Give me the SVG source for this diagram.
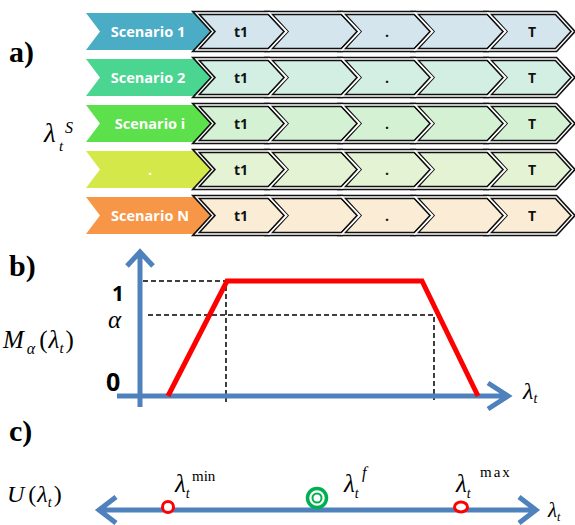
<svg xmlns="http://www.w3.org/2000/svg" width="575" height="525" viewBox="0 0 575 525">
<defs>
<style>
.sc{stroke:none}
.tl{stroke:#111;stroke-width:4.5;stroke-linejoin:miter}
.tlw{fill:none;stroke:#fff;stroke-width:1.3;stroke-linejoin:miter}
.st{font-family:"Open Sans","Liberation Sans",sans-serif;font-weight:bold;font-size:14.5px;fill:#fff;text-anchor:middle}
.tt{font-family:"Open Sans","Liberation Sans",sans-serif;font-weight:bold;font-size:14px;fill:#111;text-anchor:middle}
.lab{font-family:"Liberation Serif",serif;font-weight:bold;font-size:30px;fill:#000}
.m{font-family:"Liberation Serif",serif;font-style:italic;fill:#000}
.up{font-family:"Liberation Serif",serif;fill:#000}
.ax{stroke:#4F81BD;stroke-width:5;fill:none}
.dash{stroke:#000;stroke-width:1.5;stroke-dasharray:5,3;fill:none}
</style>
<linearGradient id="g1" gradientUnits="userSpaceOnUse" x1="196" y1="0" x2="573" y2="0"><stop offset="0" stop-color="#D4E5EE"/><stop offset="1" stop-color="#D3EEE9"/></linearGradient>
<linearGradient id="g2" gradientUnits="userSpaceOnUse" x1="196" y1="0" x2="573" y2="0"><stop offset="0" stop-color="#D3EFE4"/><stop offset="1" stop-color="#D4F2DA"/></linearGradient>
<linearGradient id="g3" gradientUnits="userSpaceOnUse" x1="196" y1="0" x2="573" y2="0"><stop offset="0" stop-color="#D5F1D4"/><stop offset="1" stop-color="#DFF3D1"/></linearGradient>
<linearGradient id="g4" gradientUnits="userSpaceOnUse" x1="196" y1="0" x2="573" y2="0"><stop offset="0" stop-color="#E4F3D3"/><stop offset="1" stop-color="#F8F4D4"/></linearGradient>
<linearGradient id="g5" gradientUnits="userSpaceOnUse" x1="196" y1="0" x2="573" y2="0"><stop offset="0" stop-color="#FBECD6"/><stop offset="1" stop-color="#FCDAD3"/></linearGradient>
<path id="chev" d="M0,0 L73,0 L91,18.5 L73,37 L0,37 L17,18.5 Z"/>
<path id="chevL" d="M0,0 L68,0 L85,18.5 L68,37 L0,37 L17,18.5 Z"/>
<path id="scen" d="M0,0 L108,0 L126,18.5 L108,37 L0,37 L14,18.5 Z"/>
</defs>
<rect width="575" height="525" fill="#fff"/>

<text class="lab" x="9" y="62">a)</text>
<text class="lab" x="9" y="276">b)</text>
<text class="lab" x="9" y="441">c)</text>

<g id="lambdaS">
<text class="m" x="44" y="142" font-size="27">λ</text>
<text class="m" x="59" y="151" font-size="15">t</text>
<text class="m" x="65" y="133" font-size="16">S</text>
</g>

<g id="row1" transform="translate(0,13)">
<use href="#scen" x="86" fill="#4BACC6"/>
<text class="st" x="148" y="24">Scenario 1</text>
<g fill="url(#g1)">
<use href="#chev" x="196" class="tl"/><use href="#chev" x="269" class="tl"/><use href="#chev" x="342" class="tl"/><use href="#chev" x="415" class="tl"/><use href="#chevL" x="488" class="tl"/>
</g>
<g class="tlw"><use href="#chev" x="196"/><use href="#chev" x="269"/><use href="#chev" x="342"/><use href="#chev" x="415"/><use href="#chevL" x="488"/></g>
<text class="tt" x="241" y="24">t1</text><text class="tt" x="387" y="24">.</text><text class="tt" x="532" y="24">T</text>
</g>

<g id="row2" transform="translate(0,59)">
<use href="#scen" x="86" fill="#4AD590"/>
<text class="st" x="148" y="24">Scenario 2</text>
<g fill="url(#g2)">
<use href="#chev" x="196" class="tl"/><use href="#chev" x="269" class="tl"/><use href="#chev" x="342" class="tl"/><use href="#chev" x="415" class="tl"/><use href="#chevL" x="488" class="tl"/>
</g>
<g class="tlw"><use href="#chev" x="196"/><use href="#chev" x="269"/><use href="#chev" x="342"/><use href="#chev" x="415"/><use href="#chevL" x="488"/></g>
<text class="tt" x="241" y="24">t1</text><text class="tt" x="387" y="24">.</text><text class="tt" x="532" y="24">T</text>
</g>

<g id="row3" transform="translate(0,105)">
<use href="#scen" x="86" fill="#5CE04B"/>
<text class="st" x="150" y="24">Scenario i</text>
<g fill="url(#g3)">
<use href="#chev" x="196" class="tl"/><use href="#chev" x="269" class="tl"/><use href="#chev" x="342" class="tl"/><use href="#chev" x="415" class="tl"/><use href="#chevL" x="488" class="tl"/>
</g>
<g class="tlw"><use href="#chev" x="196"/><use href="#chev" x="269"/><use href="#chev" x="342"/><use href="#chev" x="415"/><use href="#chevL" x="488"/></g>
<text class="tt" x="241" y="24">t1</text><text class="tt" x="387" y="24">.</text><text class="tt" x="532" y="24">T</text>
</g>

<g id="row4" transform="translate(0,151)">
<use href="#scen" x="86" fill="#D4E84A"/>
<text class="st" x="150" y="24">.</text>
<g fill="url(#g4)">
<use href="#chev" x="196" class="tl"/><use href="#chev" x="269" class="tl"/><use href="#chev" x="342" class="tl"/><use href="#chev" x="415" class="tl"/><use href="#chevL" x="488" class="tl"/>
</g>
<g class="tlw"><use href="#chev" x="196"/><use href="#chev" x="269"/><use href="#chev" x="342"/><use href="#chev" x="415"/><use href="#chevL" x="488"/></g>
<text class="tt" x="241" y="24">t1</text><text class="tt" x="387" y="24">.</text><text class="tt" x="532" y="24">T</text>
</g>

<g id="row5" transform="translate(0,197)">
<use href="#scen" x="86" fill="#F79646"/>
<text class="st" x="150" y="24">Scenario N</text>
<g fill="url(#g5)">
<use href="#chev" x="196" class="tl"/><use href="#chev" x="269" class="tl"/><use href="#chev" x="342" class="tl"/><use href="#chev" x="415" class="tl"/><use href="#chevL" x="488" class="tl"/>
</g>
<g class="tlw"><use href="#chev" x="196"/><use href="#chev" x="269"/><use href="#chev" x="342"/><use href="#chev" x="415"/><use href="#chevL" x="488"/></g>
<text class="tt" x="241" y="24">t1</text><text class="tt" x="387" y="24">.</text><text class="tt" x="532" y="24">T</text>
</g>

<g id="chartB">
<path class="dash" d="M143,281 H226 V402 M148,315 H434 V400"/>
<path class="ax" d="M140,407 V253 M127,266 L140,252 L153,266"/>
<path class="ax" d="M117,396 H508 M488,383 L508,396 L488,409"/>
<path d="M168,396 L227,281 L422,281 L478,396" fill="none" stroke="#FF0000" stroke-width="5"/>
<text x="112" y="301" font-family="'Open Sans','Liberation Sans',sans-serif" font-weight="bold" font-size="21">1</text>
<text class="m" x="108" y="328" font-size="25">α</text>
<text x="106" y="391" font-family="'Open Sans','Liberation Sans',sans-serif" font-weight="bold" font-size="25">0</text>
<text class="m" x="3" y="348" font-size="25">M<tspan font-size="16" dy="6" dx="3">α</tspan><tspan class="up" font-style="normal" dy="-6" dx="4">(</tspan><tspan dx="1">λ</tspan><tspan font-size="15" dy="5">t</tspan><tspan font-style="normal" dy="-5" dx="2">)</tspan></text>
<text class="m" x="523" y="399" font-size="24">λ<tspan font-size="14" dy="4">t</tspan></text>
</g>

<g id="chartC">
<path class="ax" d="M99,510 H536 M116,497 L99,510 L116,523 M519,497 L536,510 L519,523"/>
<circle cx="168" cy="507" r="5.5" fill="#fff" stroke="#FF0000" stroke-width="3"/>
<ellipse cx="461" cy="507" rx="6.5" ry="5" fill="#fff" stroke="#FF0000" stroke-width="3"/>
<circle cx="317" cy="498" r="9.5" fill="#fff" stroke="#00B050" stroke-width="3.5"/>
<circle cx="317" cy="498" r="4.5" fill="#fff" stroke="#00B050" stroke-width="2"/>
<text class="m" x="7" y="502" font-size="24">U<tspan class="up" font-style="normal" dx="4">(</tspan><tspan dx="1">λ</tspan><tspan font-size="14" dy="5">t</tspan><tspan font-style="normal" dy="-5" dx="2">)</tspan></text>
<text class="m" x="175" y="492" font-size="25">λ<tspan font-size="14" dy="6">t</tspan></text>
<text class="up" x="192" y="481" font-size="15">min</text>
<text class="m" x="344" y="492" font-size="25">λ<tspan font-size="14" dy="6">t</tspan></text>
<text class="m" x="362" y="478" font-size="16">f</text>
<text class="m" x="456" y="492" font-size="25">λ<tspan font-size="14" dy="6">t</tspan></text>
<text class="up" x="480" y="477" font-size="15" letter-spacing="2">max</text>
<text class="m" x="548" y="517" font-size="21">λ<tspan font-size="12" dy="4">t</tspan></text>
</g>
</svg>
